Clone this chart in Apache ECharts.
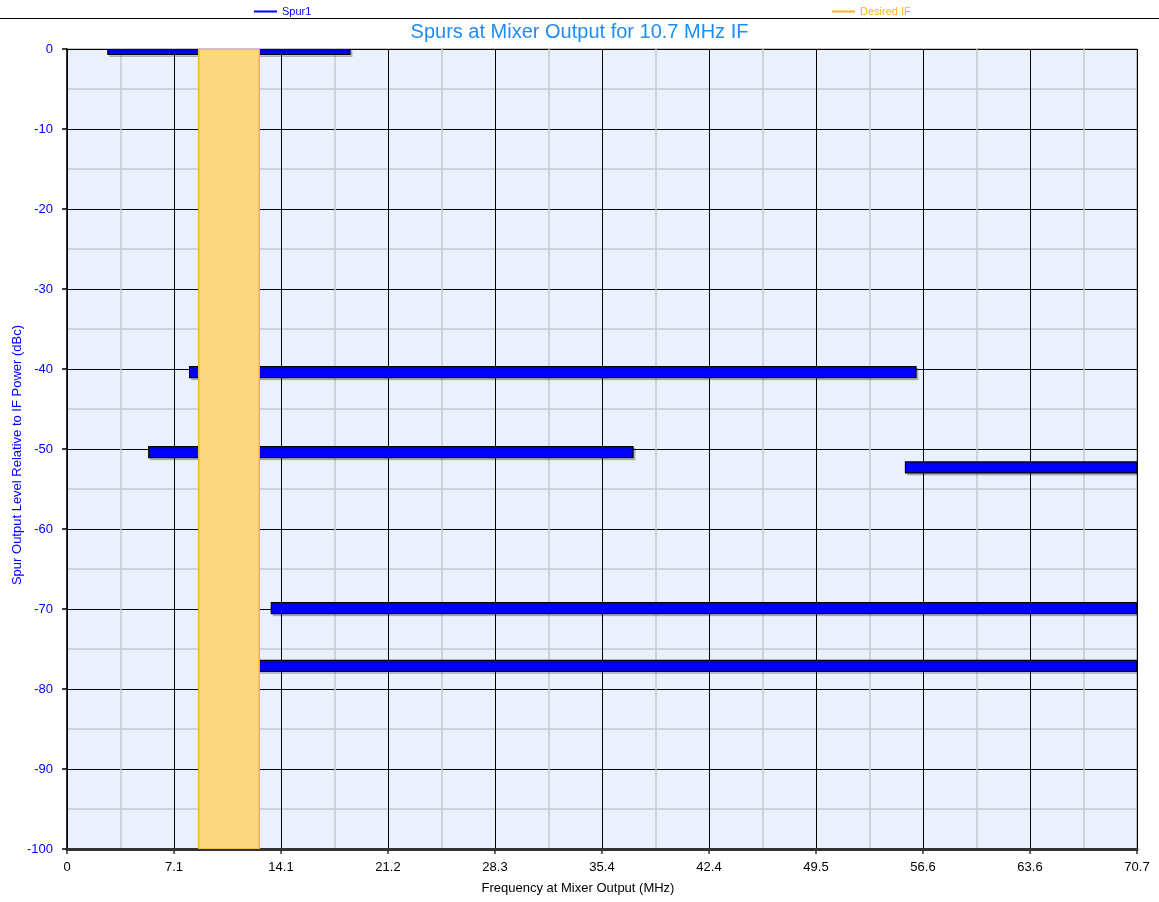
<!DOCTYPE html>
<html>
<head>
<meta charset="utf-8">
<title>Spurs at Mixer Output for 10.7 MHz IF</title>
<script src="https://cdn.jsdelivr.net/npm/echarts@6/dist/echarts.min.js"></script>
<style>
  html, body { margin: 0; padding: 0; background: #ffffff; }
  #chart { width: 1159px; height: 902px; }
</style>
</head>
<body>
<div id="chart"></div>
<script>
// Spur bands: frequency span (MHz) and output level (dBc)
const spurStart = [2.7, 8.1, 5.4, 55.4, 13.5, 10.4];
const spurEnd   = [18.7, 56.1, 37.4, 78.5, 84.2, 88.6];
const spurLevel = [0, -40.4, -50.4, -52.3, -69.9, -77.1];

// Desired IF passband (MHz)
const ifLow = 8.7;
const ifHigh = 12.7;

// Axis ticks
const xTickLabels = ['0', '7.1', '14.1', '21.2', '28.3', '35.4', '42.4', '49.5', '56.6', '63.6', '70.7'];
const xStep = 7.07;
const xMax = 70.7;
const yTicks = [0, -10, -20, -30, -40, -50, -60, -70, -80, -90, -100];

const spurData = spurStart.map((s, i) => [s, spurEnd[i], spurLevel[i]]);
const FONT = '"Liberation Sans", Arial, sans-serif';

const chart = echarts.init(document.getElementById('chart'), null, { renderer: 'canvas' });

chart.setOption({
  animation: false,
  backgroundColor: '#ffffff',
  title: {
    text: 'Spurs at Mixer Output for 10.7 MHz IF',
    left: 'center',
    top: 17,
    textStyle: { color: '#1E8CF5', fontSize: 20, fontWeight: 'normal', fontFamily: FONT }
  },
  legend: [
    {
      data: [{ name: 'Spur1', textStyle: { color: '#0000FF' } }],
      left: 249, top: 1,
      icon: 'rect', itemWidth: 23, itemHeight: 2, itemGap: 0,
      textStyle: { fontSize: 11, fontFamily: FONT }
    },
    {
      data: [{ name: 'Desired IF', textStyle: { color: '#F7B21C' } }],
      left: 827, top: 1,
      icon: 'rect', itemWidth: 23, itemHeight: 2, itemGap: 0,
      textStyle: { fontSize: 11, fontFamily: FONT }
    }
  ],
  graphic: [
    {
      type: 'line',
      shape: { x1: 0, y1: 18.5, x2: 1159, y2: 18.5 },
      style: { stroke: '#000000', lineWidth: 1 },
      silent: true
    }
  ],
  grid: {
    left: 67, right: 22, top: 49, bottom: 53,
    containLabel: false,
    outerBoundsMode: 'none',
    show: true,
    backgroundColor: '#EAF0FC',
    borderColor: '#8a8a8a',
    borderWidth: 1
  },
  xAxis: {
    type: 'value',
    min: 0, max: xMax, interval: xStep,
    name: 'Frequency at Mixer Output (MHz)',
    nameLocation: 'middle',
    nameGap: 33,
    nameMoveOverlap: false,
    nameTextStyle: { color: '#000000', fontSize: 13, fontFamily: FONT, padding: [0, 48, 0, 0] },
    axisLine: { show: true, onZero: false, lineStyle: { color: '#333333', width: 3 } },
    axisTick: { show: true, length: 5, lineStyle: { color: '#333333', width: 1.5 } },
    axisLabel: {
      color: '#000000', fontSize: 13, fontFamily: FONT, margin: 12,
      showMinLabel: true, showMaxLabel: true,
      formatter: v => xTickLabels[Math.round(v / xStep)]
    },
    splitLine: { show: true, lineStyle: { color: '#000000', width: 1 } },
    minorTick: { show: false, splitNumber: 2 },
    minorSplitLine: { show: true, lineStyle: { color: '#C6C8CE', width: 1.5 } }
  },
  yAxis: {
    type: 'value',
    min: -100, max: 0, interval: 10,
    name: 'Spur Output Level Relative to IF Power (dBc)',
    nameLocation: 'middle',
    nameGap: 43,
    nameMoveOverlap: false,
    nameRotate: 90,
    nameTextStyle: { color: '#0000FF', fontSize: 13, fontFamily: FONT, padding: [0, 12, 0, 0] },
    axisLine: { show: true, onZero: false, lineStyle: { color: '#000000', width: 1.5 } },
    axisTick: { show: true, length: 5, lineStyle: { color: '#000000', width: 1.5 } },
    axisLabel: {
      color: '#0000FF', fontSize: 13, fontFamily: FONT, margin: 14,
      formatter: v => String(yTicks.find(t => t === Math.round(v)) ?? Math.round(v))
    },
    splitLine: { show: true, lineStyle: { color: '#000000', width: 1 } },
    minorTick: { show: false, splitNumber: 2 },
    minorSplitLine: { show: true, lineStyle: { color: '#C6C8CE', width: 1.5 } }
  },
  series: [
    {
      name: 'Spur1',
      type: 'custom',
      clip: true,
      itemStyle: { color: '#0000FF' },
      encode: { x: [0, 1], y: 2 },
      data: spurData,
      renderItem: function (params, api) {
        const p0 = api.coord([api.value(0), api.value(2)]);
        const p1 = api.coord([api.value(1), api.value(2)]);
        const h = 11;
        const rect = echarts.graphic.clipRectByRect(
          { x: p0[0], y: p0[1] - h / 2, width: p1[0] - p0[0], height: h },
          {
            x: params.coordSys.x, y: params.coordSys.y,
            width: params.coordSys.width, height: params.coordSys.height
          }
        );
        if (!rect) return null;
        return {
          type: 'rect',
          shape: rect,
          style: {
            fill: '#0000FF',
            stroke: '#000000',
            lineWidth: 1.2,
            shadowColor: 'rgba(0,0,0,0.18)',
            shadowOffsetX: 2,
            shadowOffsetY: 2,
            shadowBlur: 0
          }
        };
      },
      z: 3
    },
    {
      name: 'Desired IF',
      type: 'custom',
      clip: true,
      itemStyle: { color: '#F7B21C' },
      encode: { x: [0, 1], y: [2, 3] },
      data: [[ifLow, ifHigh, 0, -100]],
      renderItem: function (params, api) {
        const p0 = api.coord([api.value(0), api.value(2)]);
        const p1 = api.coord([api.value(1), api.value(3)]);
        return {
          type: 'rect',
          shape: { x: p0[0], y: p0[1], width: p1[0] - p0[0], height: p1[1] - p0[1] },
          style: { fill: '#FDD880', stroke: '#F4B630', lineWidth: 1.5 }
        };
      },
      z: 4
    }
  ]
});
</script>
</body>
</html>
